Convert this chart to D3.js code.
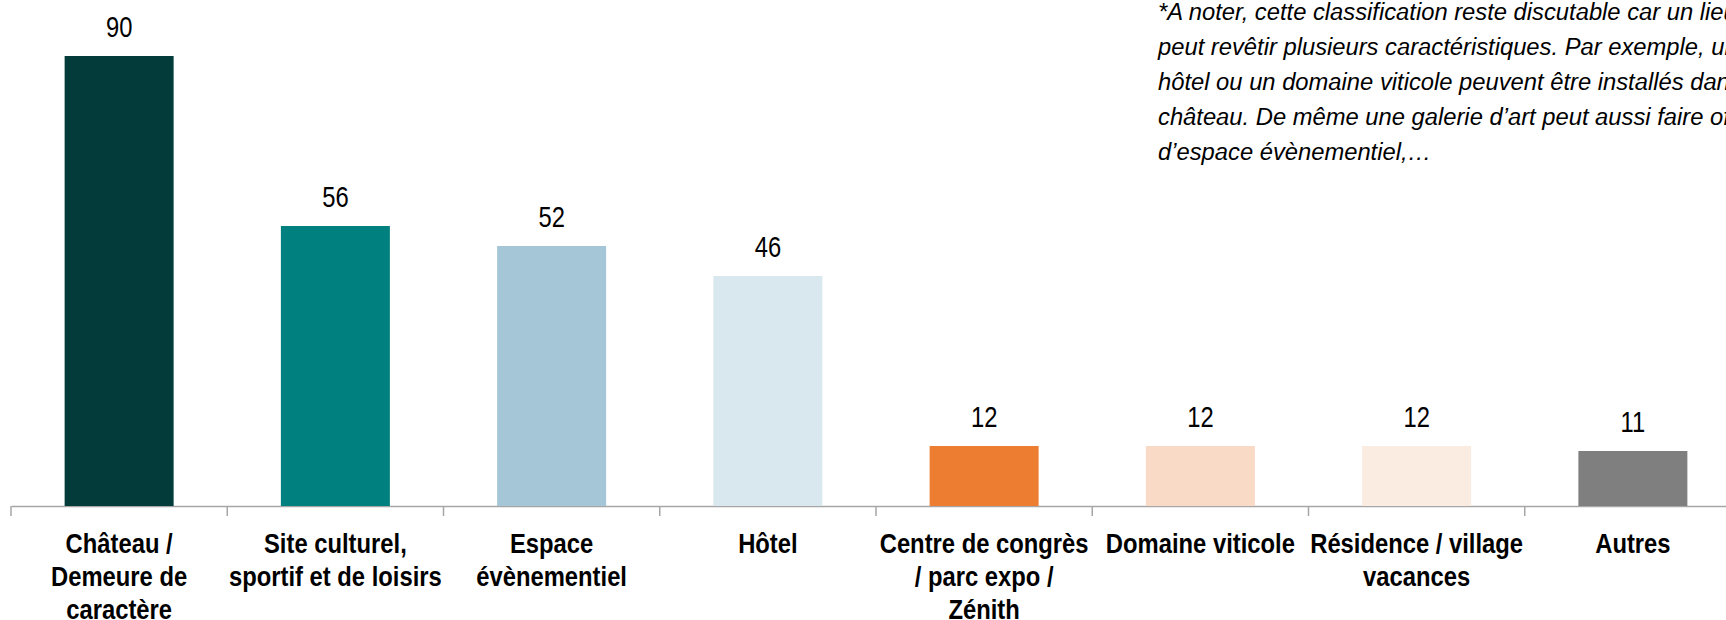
<!DOCTYPE html>
<html>
<head>
<meta charset="utf-8">
<script src="https://cdn.jsdelivr.net/npm/d3@7"></script>
<style>
  body { margin: 0; background: #fff; }
  svg text { font-family: "Liberation Sans", Arial, sans-serif; fill: #000; }
</style>
</head>
<body>
<div id="chart"></div>
<script>
// categories (one entry per line of the label)
var categories = [
  ["Château /", "Demeure de", "caractère"],
  ["Site culturel,", "sportif et de loisirs"],
  ["Espace", "évènementiel"],
  ["Hôtel"],
  ["Centre de congrès", "/ parc expo /", "Zénith"],
  ["Domaine viticole"],
  ["Résidence / village", "vacances"],
  ["Autres"]
];
var values = [90, 56, 52, 46, 12, 12, 12, 11];
var colors = ["#023b3a", "#00807f", "#a5c6d6", "#d9e8ee", "#ed7d31", "#f8dac7", "#fbece2", "#7f7f7f"];
var note = [
  "*A noter, cette classification reste discutable car un lieu",
  "peut revêtir plusieurs caractéristiques. Par exemple, un",
  "hôtel ou un domaine viticole peuvent être installés dans un",
  "château. De même une galerie d’art peut aussi faire office",
  "d’espace évènementiel,…"
];

var width = 1726
var height = 620
// squeeze Liberation Sans so it looks like Arial Narrow
var narrowVal = 0.82
var narrowCat = 0.85
var narrowNote = 0.99

var svg = d3.select("#chart").append("svg")
  .attr("width", width)
  .attr("height", height)

var keys = categories.map(function(d, i) { return i; })

var x = d3.scaleBand()
  .domain(keys)
  .range([11, 1741])
  .paddingInner(0.496)
  .paddingOuter(0.248)

var y = d3.scaleLinear()
  .domain([0, 90])
  .range([506, 56])

var step = x.step()
var gap = step * x.paddingInner() / 2

// axis line via d3 axis, ticks drawn at band edges
var axis = svg.append("g")
  .attr("transform", "translate(0," + y(0) + ")")
  .call(d3.axisBottom(x).tickSize(0).tickFormat(""))
axis.select(".domain").attr("stroke", "#a6a6a6").attr("stroke-width", 1.5)

svg.selectAll(".tick-edge")
  .data(keys)
  .enter()
  .append("line")
  .attr("class", "tick-edge")
  .attr("x1", function(d) { return x(d) - gap; })
  .attr("x2", function(d) { return x(d) - gap; })
  .attr("y1", y(0))
  .attr("y2", y(0) + 10)
  .attr("stroke", "#a6a6a6")
  .attr("stroke-width", 1.5)

svg.selectAll(".bar")
  .data(values)
  .enter()
  .append("rect")
  .attr("class", "bar")
  .attr("x", function(d, i) { return x(i); })
  .attr("y", function(d) { return y(d); })
  .attr("width", x.bandwidth())
  .attr("height", function(d) { return y(0) - y(d); })
  .attr("fill", function(d, i) { return colors[i]; })

svg.selectAll(".val")
  .data(values)
  .enter()
  .append("g")
  .attr("class", "val")
  .attr("transform", function(d, i) {
    return "translate(" + (x(i) + x.bandwidth() / 2) + "," + (y(d) - 19) + ") scale(" + narrowVal + ",1)";
  })
  .append("text")
  .attr("text-anchor", "middle")
  .style("font-size", "29px")
  .text(function(d) { return d; })

var labels = svg.selectAll(".cat")
  .data(categories)
  .enter()
  .append("g")
  .attr("class", "cat")
  .attr("transform", function(d, i) {
    return "translate(" + (x(i) + x.bandwidth() / 2) + ",0) scale(" + narrowCat + ",1)";
  })
  .append("text")
  .attr("text-anchor", "middle")
  .style("font-size", "28px")
  .style("font-weight", "bold")

labels.selectAll("tspan")
  .data(function(d) { return d; })
  .enter()
  .append("tspan")
  .attr("x", 0)
  .attr("y", function(d, j) { return y(0) + 47 + j * 33; })
  .text(function(d) { return d; })

svg.append("g")
  .attr("transform", "translate(1158,0) scale(" + narrowNote + ",1)")
  .append("text")
  .attr("class", "note")
  .style("font-size", "24px")
  .style("font-style", "italic")
  .selectAll("tspan")
  .data(note)
  .enter()
  .append("tspan")
  .attr("x", 0)
  .attr("y", function(d, i) { return 20 + i * 35; })
  .text(function(d) { return d; })
</script>
</body>
</html>
